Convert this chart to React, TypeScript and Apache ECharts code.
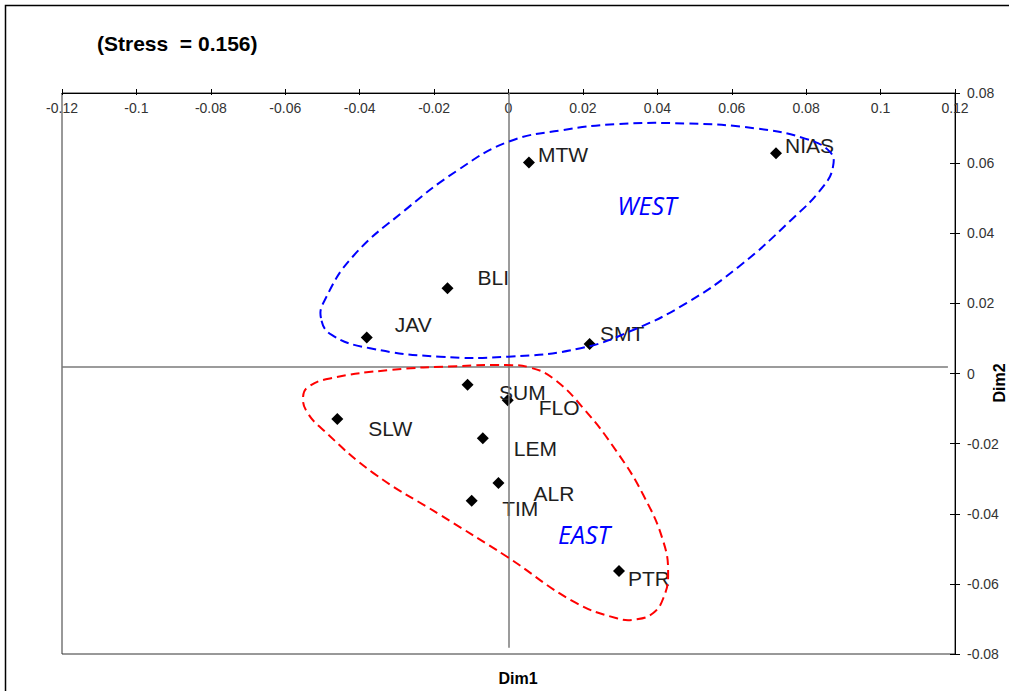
import React, { useEffect, useRef } from "react";
import * as echarts from "echarts";

// ---- data (MDS configuration) ----
const sites = ["NIAS", "MTW", "BLI", "JAV", "SMT", "SUM", "FLO", "SLW", "LEM", "ALR", "TIM", "PTR"];
const dim1 = [0.0719, 0.0055, -0.0164, -0.0381, 0.0218, -0.011, -0.0002, -0.046, -0.0069, -0.0027, -0.0099, 0.0297];
const dim2 = [0.0628, 0.0602, 0.0243, 0.0103, 0.0084, -0.0032, -0.0076, -0.013, -0.0185, -0.0312, -0.0363, -0.0563];

const stressText = "(Stress  = 0.156)";
const xTitle = "Dim1";
const yTitle = "Dim2";

// group outlines (data coordinates)
const westLoopX = [-0.0504, -0.0494, -0.0419, -0.0278, -0.0136, 0.0, 0.0146, 0.0288, 0.0477, 0.0665, 0.0797, 0.0864, 0.0872, 0.0845, 0.0759, 0.0618, 0.0477, 0.0335, 0.0194, 0.0, -0.0184, -0.0372, -0.0475];
const westLoopY = [0.0158, 0.0209, 0.0333, 0.0466, 0.058, 0.0661, 0.0694, 0.0711, 0.0713, 0.0699, 0.067, 0.0632, 0.0589, 0.0532, 0.0437, 0.0304, 0.02, 0.0124, 0.0072, 0.0048, 0.0048, 0.0072, 0.011];
const eastLoopX = [-0.0552, -0.0538, -0.048, -0.0318, -0.0139, -0.0005, 0.0058, 0.012, 0.0201, 0.0291, 0.0362, 0.0416, 0.0429, 0.0416, 0.0389, 0.0345, 0.0291, 0.0174, -0.0005, -0.0184, -0.0363, -0.0498, -0.0542];
const eastLoopY = [-0.0066, -0.0038, -0.0014, 0.001, 0.0021, 0.0024, 0.0017, -0.0014, -0.0099, -0.0223, -0.0346, -0.0479, -0.0574, -0.0641, -0.0683, -0.0701, -0.0698, -0.065, -0.0522, -0.0403, -0.0284, -0.0161, -0.0109];

const regionNames = ["WEST", "EAST"];
const regionX = [0.0372, 0.0203];
const regionY = [0.048, -0.0457];

// reference lines (data coordinates)
const vLine = { x: 0, y1: 0.08, y2: -0.0782 };
const hLine = { y: 0.00185, x1: -0.12, x2: 0.1181 };

// styling: label offsets in px (left edge, vertical middle) relative to each marker
const labelOffsets: number[][] = [
  [9, -8], [9, -8], [30, -11], [28, -12.5], [10.5, -10.5], [31.5, 7.5],
  [31, 7.5], [31, 9.5], [31, 10], [35, 10.5], [30.5, 8], [9, 7.5],
];

const SANS = "'Liberation Sans', Arial, sans-serif";
const fmt = (v: number) => String(parseFloat(Number(v).toFixed(2)));

export default function App() {
  const ref = useRef<HTMLDivElement>(null);

  useEffect(() => {
    if (!ref.current) return;
    const chart = echarts.init(ref.current, null, { renderer: "svg" });

    const axisCommon = {
      type: "value" as const,
      splitLine: { show: false },
    };

    const option: any = {
      animation: false,
      backgroundColor: "#ffffff",
      grid: { left: 62, top: 93, right: 54, bottom: 37, show: true, borderColor: "#333", borderWidth: 1 },
      xAxis: [
        {
          ...axisCommon,
          position: "top",
          min: -0.12,
          max: 0.12,
          interval: 0.02,
          axisLine: { show: true, onZero: false, lineStyle: { color: "#000", width: 1 } },
          axisTick: { show: true, inside: false, length: 4, lineStyle: { color: "#000" } },
          axisLabel: { show: true, inside: true, margin: 8, fontSize: 14, color: "#333", fontFamily: SANS, formatter: fmt },
        },
        {
          ...axisCommon,
          position: "top",
          min: -0.12,
          max: 0.12,
          interval: 0.02,
          axisLine: { show: false, onZero: false },
          axisTick: { show: true, inside: true, length: 2, lineStyle: { color: "#000" } },
          axisLabel: { show: false },
        },
      ],
      yAxis: [
        {
          ...axisCommon,
          position: "right",
          min: -0.08,
          max: 0.08,
          interval: 0.02,
          axisLine: { show: true, onZero: false, lineStyle: { color: "#000", width: 1 } },
          axisTick: { show: true, inside: false, length: 5, lineStyle: { color: "#000" } },
          axisLabel: { show: true, margin: 12, fontSize: 14, color: "#333", fontFamily: SANS, formatter: fmt },
        },
        {
          ...axisCommon,
          position: "right",
          min: -0.08,
          max: 0.08,
          interval: 0.02,
          axisLine: { show: false, onZero: false },
          axisTick: { show: true, inside: true, length: 5, lineStyle: { color: "#000" } },
          axisLabel: { show: false },
        },
      ],
      series: [
        {
          type: "line",
          xAxisIndex: 0,
          yAxisIndex: 0,
          data: [],
          z: 1,
          silent: true,
          markLine: {
            silent: true,
            symbol: ["none", "none"],
            label: { show: false },
            lineStyle: { color: "#7a7a7a", width: 1.5, type: "solid" },
            data: [
              [{ coord: [vLine.x, vLine.y1] }, { coord: [vLine.x, vLine.y2] }],
              [{ coord: [hLine.x1, hLine.y] }, { coord: [hLine.x2, hLine.y] }],
            ],
          },
        },
        {
          type: "scatter",
          xAxisIndex: 0,
          yAxisIndex: 0,
          z: 4,
          symbol: "diamond",
          symbolSize: 12,
          itemStyle: { color: "#000", opacity: 1 },
          label: {
            show: true,
            formatter: "{b}",
            position: "inside",
            align: "left",
            verticalAlign: "middle",
            fontSize: 21,
            fontFamily: SANS,
            color: "#1e1e1e",
          },
          data: sites.map((s, i) => ({
            name: s,
            value: [dim1[i], dim2[i]],
            label: { offset: labelOffsets[i] },
          })),
        },
      ],
    };

    chart.setOption(option);

    const toPx = (x: number, y: number) => chart.convertToPixel({ gridIndex: 0 }, [x, y]) as number[];
    const westPts = westLoopX.map((x, i) => toPx(x, westLoopY[i]));
    const eastPts = eastLoopX.map((x, i) => toPx(x, eastLoopY[i]));

    const graphics: any[] = [
      {
        type: "rect",
        z: 0,
        silent: true,
        shape: { x: 5.5, y: 5.5, width: 2000, height: 2000 },
        style: { fill: "none", stroke: "#000", lineWidth: 1.5 },
      },
      {
        type: "text",
        x: 97,
        y: 43,
        style: { text: stressText, fontSize: 21, fontWeight: "bold", fontFamily: SANS, fill: "#000", align: "left", verticalAlign: "middle" },
      },
      {
        type: "text",
        x: 518,
        y: 678,
        style: { text: xTitle, fontSize: 16, fontWeight: "bold", fontFamily: SANS, fill: "#000", align: "center", verticalAlign: "middle" },
      },
      {
        type: "text",
        x: 999,
        y: 383,
        rotation: Math.PI / 2,
        style: { text: yTitle, fontSize: 16, fontWeight: "bold", fontFamily: SANS, fill: "#000", align: "center", verticalAlign: "middle" },
      },
      {
        type: "polygon",
        z: 10,
        silent: true,
        shape: { points: westPts, smooth: 0.45 },
        style: { fill: "none", stroke: "#0000ff", lineWidth: 2, lineDash: [9, 5] },
      },
      {
        type: "polygon",
        z: 10,
        silent: true,
        shape: { points: eastPts, smooth: 0.45 },
        style: { fill: "none", stroke: "#ff0000", lineWidth: 2, lineDash: [9, 5] },
      },
      ...regionNames.map((n, i) => {
        const p = toPx(regionX[i], regionY[i]);
        return {
          type: "text",
          z: 10,
          x: p[0],
          y: p[1],
          style: {
            text: n,
            fontSize: 25,
            fontStyle: "italic",
            fontFamily: "'Open Sans', 'Noto Sans', sans-serif",
            fill: "#0000ff",
            align: "center",
            verticalAlign: "middle",
          },
        };
      }),
    ];

    chart.setOption({ graphic: graphics });

    return () => chart.dispose();
  }, []);

  return (
    <div
      ref={ref}
      style={{ position: "fixed", left: 0, top: 0, width: 1009, height: 691, background: "#fff" }}
    />
  );
}
